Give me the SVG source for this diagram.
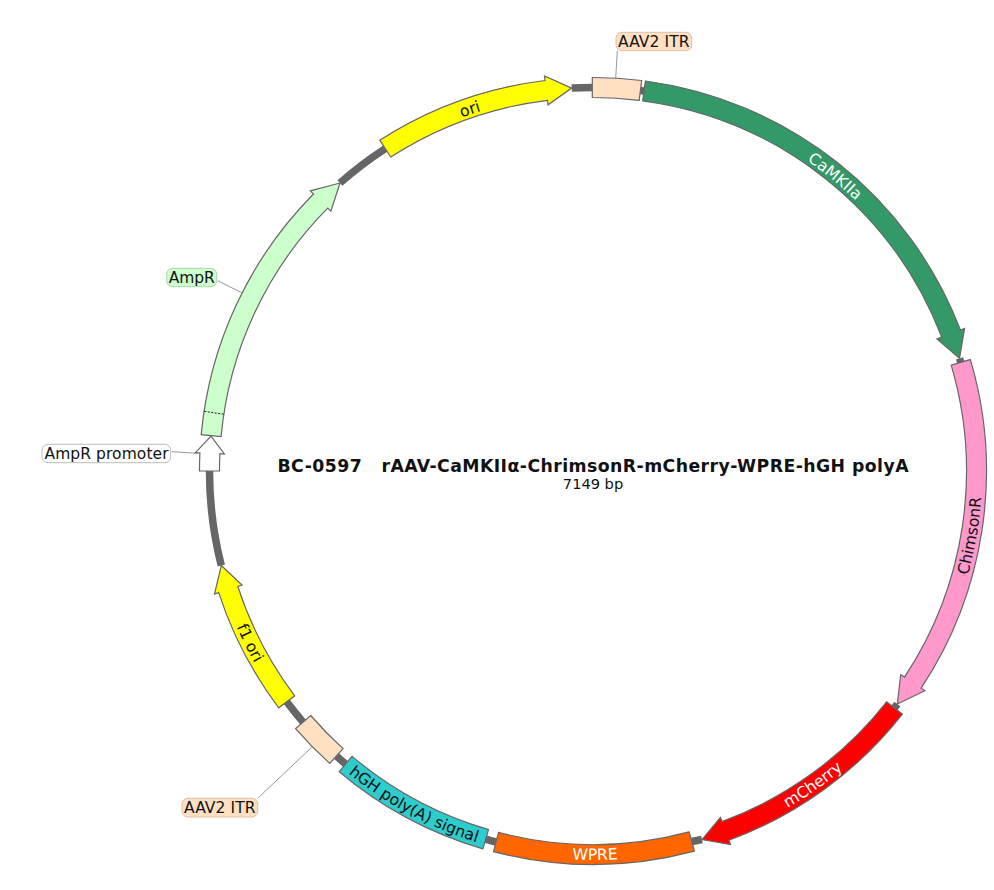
<svg xmlns="http://www.w3.org/2000/svg" width="994" height="890" viewBox="0 0 994 890">
<style>
text{font-family:"DejaVu Sans",Verdana,sans-serif;font-size:15.5px;fill:#111}
.p{font-size:15.7px}
.w{fill:#fff}
.f{stroke:#666;stroke-width:1.2}
.bb{fill:none;stroke:#666;stroke-width:7.5}
.ln{stroke:#999;stroke-width:1;fill:none}
.lb{stroke-width:1}
</style>
<defs>
<path id="cw" d="M326.4 204.4A377 377 0 0 1 859.6 204.4"/>
<path id="ccw" d="M317.9 746.1A389 389 0 0 0 868.1 746.1"/>
</defs>
<rect width="994" height="890" fill="#fff"/>
<g id="connectors">
<path class="bb" d="M571.7 88.1A383.5 383.5 0 0 1 592.3 87.5"/>
<path class="bb" d="M640.4 90.5A383.5 383.5 0 0 1 644 90.9"/>
<path class="bb" d="M959.5 358.3A383.5 383.5 0 0 1 960.8 362.4"/>
<path class="bb" d="M897.3 704A383.5 383.5 0 0 1 894.5 708"/>
<path class="bb" d="M702 839.5A383.5 383.5 0 0 1 691.8 841.5"/>
<path class="bb" d="M496 842A383.5 383.5 0 0 1 485.7 839.2"/>
<path class="bb" d="M345.7 764.1A383.5 383.5 0 0 1 336.4 756"/>
<path class="bb" d="M303.1 722.1A383.5 383.5 0 0 1 286.7 701.8"/>
<path class="bb" d="M221.3 565.5A383.5 383.5 0 0 1 209.5 471"/>
<path class="bb" d="M340 183A383.5 383.5 0 0 1 385.3 148.6"/>
<path class="ln" d="M617.3 50.7L615.7 78.3"/>
<path class="ln" d="M171.7 451.7L198 453.3"/>
<path class="ln" d="M217.7 280.7L241.7 292.7"/>
<path class="ln" d="M258.3 797.7L311.7 747.3"/>
</g>
<g id="itr-top">
<path class="f" fill="#ffe0c2" d="M592.3 77.5A393.5 393.5 0 0 1 641.6 80.5L639.2 100.4A373.5 373.5 0 0 0 592.3 97.5Z"/>
<rect class="lb" x="616" y="32.3" width="75.7" height="18.4" rx="6" fill="#ffe0c2" stroke="#dcc0a6"/>
<text x="618" y="46.6" textLength="71.5">AAV2 ITR</text>
</g>
<g id="camkiia">
<path class="f" fill="#339966" d="M645.4 81A393.5 393.5 0 0 1 960.4 330L964.6 328.4L959.5 358.3L937 338.9L941.7 337.1A373.5 373.5 0 0 0 642.7 100.8Z"/>
<text class="p w" transform="rotate(39.4 593 471)"><textPath href="#cw" startOffset="50%" text-anchor="middle">CaMKIIa</textPath></text>
</g>
<g id="chimsonr">
<path class="f" fill="#ff99cc" d="M970.4 359.6A393.5 393.5 0 0 1 921.1 688.2L924.9 690.7L897.3 704L900.7 674.7L904.5 677.1A373.5 373.5 0 0 0 951.2 365.2Z"/>
<text class="p" transform="rotate(-80.26 593 471)"><textPath href="#ccw" startOffset="50%" text-anchor="middle">ChimsonR</textPath></text>
</g>
<g id="mcherry">
<path class="f" fill="#ff0000" d="M902.4 714.2A393.5 393.5 0 0 1 728.9 840.3L730.4 844.5L702 839.5L720.4 817.3L722 821.5A373.5 373.5 0 0 0 886.6 701.8Z"/>
<text class="p w" transform="rotate(-35 593 471)"><textPath href="#ccw" startOffset="50%" text-anchor="middle">mCherry</textPath></text>
</g>
<g id="wpre">
<path class="f" fill="#ff6600" d="M694.4 851.2A393.5 393.5 0 0 1 493.5 851.7L498.5 832.4A373.5 373.5 0 0 0 689.2 831.9Z"/>
<text class="p w" transform="rotate(-0.3 593 471)"><textPath href="#ccw" startOffset="50%" text-anchor="middle">WPRE</textPath></text>
</g>
<g id="hgh">
<path class="f" fill="#2ecccc" d="M482.9 848.8A393.5 393.5 0 0 1 339.2 771.7L352.1 756.4A373.5 373.5 0 0 0 488.5 829.6Z"/>
<text class="p" transform="rotate(28.2 593 471)"><textPath href="#ccw" startOffset="50%" text-anchor="middle">hGH poly(A) signal</textPath></text>
</g>
<g id="itr-bottom">
<path class="f" fill="#ffe0c2" d="M329.7 763.4A393.5 393.5 0 0 1 295.6 728.6L310.7 715.5A373.5 373.5 0 0 0 343.1 748.6Z"/>
<rect class="lb" x="182" y="798.3" width="75.7" height="18.7" rx="6" fill="#ffe0c2" stroke="#dcc0a6"/>
<text x="184" y="812.8" textLength="71.5">AAV2 ITR</text>
</g>
<g id="f1-ori">
<path class="f" fill="#ffff00" d="M278.7 707.8A393.5 393.5 0 0 1 218.7 592.6L214.5 594L221.3 565.5L242 585L237.8 586.4A373.5 373.5 0 0 0 294.7 695.8Z"/>
<text class="p" transform="rotate(63.4 593 471)"><textPath href="#ccw" startOffset="50%" text-anchor="middle">f1 ori</textPath></text>
</g>
<g id="ampr-promoter">
<path class="f" fill="#fff" d="M199.5 471A393.5 393.5 0 0 1 199.9 452.8L195.4 452.6L211 436.2L224.4 454L219.9 453.7A373.5 373.5 0 0 0 219.5 471Z"/>
<rect class="lb" x="42" y="444.3" width="128.7" height="18.4" rx="6" fill="#fff" stroke="#bbb"/>
<text x="44.5" y="458.6" textLength="124">AmpR promoter</text>
</g>
<g id="ampr">
<path class="f" fill="#ccffcc" d="M201.2 434.6A393.5 393.5 0 0 1 313.5 194L310.3 190.8L340 183L330.9 211.2L327.7 208.1A373.5 373.5 0 0 0 221.1 436.5Z"/>
<path d="M204.3 411.3L224 414.3" stroke="#111" stroke-width="1" stroke-dasharray="2 1.5" fill="none"/>
<rect class="lb" x="166.7" y="268.3" width="50" height="18.4" rx="6" fill="#ccffcc" stroke="#a8d8a8"/>
<text x="168.7" y="282.6" textLength="46">AmpR</text>
</g>
<g id="ori">
<path class="f" fill="#ffff00" d="M379.8 140.2A393.5 393.5 0 0 1 545 80.5L544.5 76L571.7 88.1L548 104.8L547.5 100.3A373.5 373.5 0 0 0 390.7 157Z"/>
<text class="p" transform="rotate(-18.8 593 471)"><textPath href="#cw" startOffset="50%" text-anchor="middle">ori</textPath></text>
</g>
<g id="title">
<text x="593" y="471.5" text-anchor="middle" style="font-size:17.3px;font-weight:700" xml:space="preserve" textLength="631">BC-0597   rAAV-CaMKIIα-ChrimsonR-mCherry-WPRE-hGH polyA</text>
<text x="593" y="488.5" text-anchor="middle" style="font-size:14.6px">7149 bp</text>
</g>
</svg>
